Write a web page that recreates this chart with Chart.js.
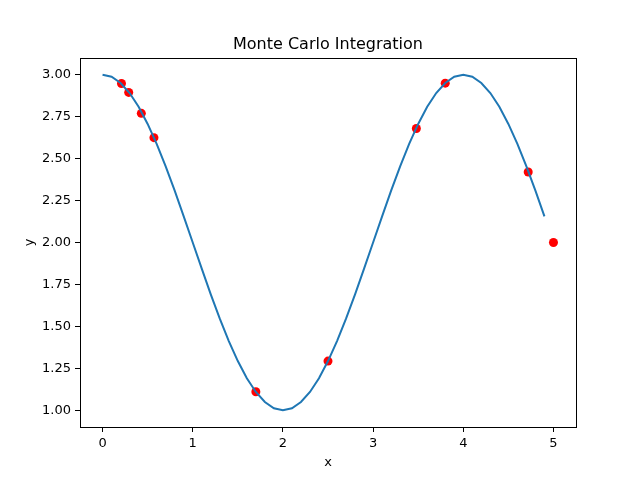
<!DOCTYPE html>
<html>
<head>
<meta charset="utf-8">
<script src="https://cdn.jsdelivr.net/npm/chart.js@4/dist/chart.umd.min.js"></script>
<style>
  html, body { margin: 0; padding: 0; background: #fff; }
</style>
</head>
<body>
<canvas id="chart" width="640" height="480"></canvas>
<script>
// curve, x = 0 .. 4.9
const curveX = [0.0, 0.1, 0.2, 0.3, 0.4, 0.5, 0.6, 0.7, 0.8, 0.9,
                1.0, 1.1, 1.2, 1.3, 1.4, 1.5, 1.6, 1.7, 1.8, 1.9,
                2.0, 2.1, 2.2, 2.3, 2.4, 2.5, 2.6, 2.7, 2.8, 2.9,
                3.0, 3.1, 3.2, 3.3, 3.4, 3.5, 3.6, 3.7, 3.8, 3.9,
                4.0, 4.1, 4.2, 4.3, 4.4, 4.5, 4.6, 4.7, 4.8, 4.9];
const curveY = [3.000, 2.988, 2.951, 2.891, 2.809, 2.707, 2.588, 2.454, 2.309, 2.156,
                2.000, 1.844, 1.691, 1.546, 1.412, 1.293, 1.191, 1.109, 1.049, 1.012,
                1.000, 1.012, 1.049, 1.109, 1.191, 1.293, 1.412, 1.546, 1.691, 1.844,
                2.000, 2.156, 2.309, 2.454, 2.588, 2.707, 2.809, 2.891, 2.951, 2.988,
                3.000, 2.988, 2.951, 2.891, 2.809, 2.707, 2.588, 2.454, 2.309, 2.156];

// random samples (red dots)
const sampleX = [0.21, 0.29, 0.43, 0.57, 1.70, 2.50, 3.48, 3.80, 4.72, 5.00];
const sampleY = [2.948, 2.895, 2.77, 2.625, 1.11, 1.293, 2.68, 2.95, 2.42, 2.00];

const xTicks = [0, 1, 2, 3, 4, 5];
const yTicks = [1.00, 1.25, 1.50, 1.75, 2.00, 2.25, 2.50, 2.75, 3.00];

const chartTitle = "Monte Carlo Integration";
const tickFont = { family: "DejaVu Sans", size: 13 };

// full box around the plot + title centred over the axes, like matplotlib
const frame = {
  id: "frame",
  afterDraw(chart) {
    const a = chart.chartArea;
    const ctx = chart.ctx;
    ctx.save();
    ctx.strokeStyle = "#000";
    ctx.lineWidth = 1;
    ctx.strokeRect(a.left + 0.5, a.top + 0.5, a.right - a.left, a.bottom - a.top);
    ctx.fillStyle = "#000";
    ctx.font = "16px 'DejaVu Sans'";
    ctx.textAlign = "center";
    ctx.textBaseline = "alphabetic";
    ctx.fillText(chartTitle, (a.left + a.right) / 2, a.top - 9);
    ctx.restore();
  }
};

new Chart(document.getElementById("chart").getContext("2d"), {
  type: "scatter",
  data: {
    datasets: [
      {
        type: "line",
        data: curveX.map((x, i) => ({ x: x, y: curveY[i] })),
        borderColor: "#1f77b4",
        borderWidth: 2,
        pointRadius: 0,
        fill: false,
        tension: 0
      },
      {
        data: sampleX.map((x, i) => ({ x: x, y: sampleY[i] })),
        backgroundColor: "#ff0000",
        borderWidth: 0,
        pointRadius: 4.5
      }
    ]
  },
  options: {
    responsive: false,
    devicePixelRatio: 1,
    animation: false,
    layout: { padding: { left: 0, right: 64, top: 58, bottom: 0 } },
    plugins: {
      legend: { display: false },
      tooltip: { enabled: false },
      title: { display: false }
    },
    scales: {
      x: {
        type: "linear",
        min: -0.25,
        max: 5.25,
        afterBuildTicks: s => { s.ticks = xTicks.map(v => ({ value: v })); },
        afterFit: s => { s.height = 53; },
        ticks: { color: "#000", font: tickFont, padding: 4, maxRotation: 0 },
        grid: { display: true, drawOnChartArea: false, drawTicks: true, tickLength: 5, color: "#000" },
        border: { display: true, color: "#000" },
        title: {
          display: true, text: "x", color: "#000",
          font: tickFont, padding: { top: 0, bottom: 10 }
        }
      },
      y: {
        type: "linear",
        min: 0.9,
        max: 3.1,
        afterBuildTicks: s => { s.ticks = yTicks.map(v => ({ value: v })); },
        afterFit: s => { s.width = 80; },
        ticks: { color: "#000", font: tickFont, padding: 4, callback: v => v.toFixed(2) },
        grid: { display: true, drawOnChartArea: false, drawTicks: true, tickLength: 5, color: "#000" },
        border: { display: true, color: "#000" },
        title: {
          display: true, text: "y", color: "#000",
          font: tickFont, padding: { top: 22, bottom: 0 }
        }
      }
    }
  },
  plugins: [frame]
});
</script>
</body>
</html>
